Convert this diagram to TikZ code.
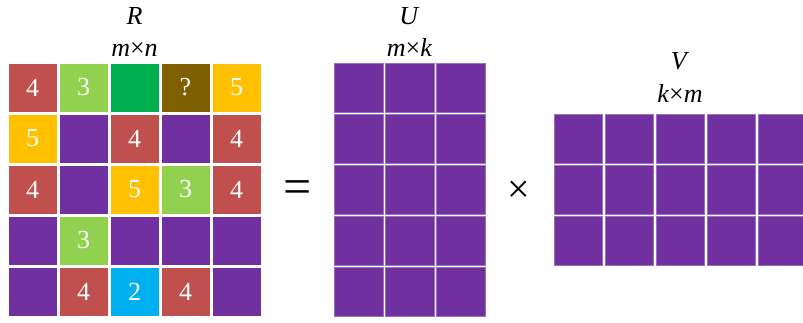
\documentclass[tikz,border=0pt]{standalone}
\usepackage{fontspec}
\setmainfont{Liberation Serif}
\definecolor{cR}{HTML}{C0504D}
\definecolor{cLG}{HTML}{92D050}
\definecolor{cG}{HTML}{00B050}
\definecolor{cBr}{HTML}{7F6000}
\definecolor{cY}{HTML}{FFC000}
\definecolor{cP}{HTML}{7030A0}
\definecolor{cC}{HTML}{00B0F0}
\definecolor{cEdge}{HTML}{9A70C0}
\begin{document}
\begin{tikzpicture}[x=1pt,y=-1pt,
  cell/.style={minimum size=48.6pt,inner sep=0pt,draw=white,line width=0.4pt,
    text=white,font=\fontsize{26}{26}\selectfont},
  pcell/.style={cell,fill=cP,draw=cEdge},
  lbl/.style={anchor=base,inner sep=0pt,font=\fontsize{26}{26}\selectfont},
  op/.style={inner sep=0pt}]
\useasboundingbox (0,0) rectangle (803,323);
\clip (0,0) rectangle (803,323);
% R matrix
\foreach \i/\j/\col/\txt in {
  0/0/cR/4, 0/1/cLG/3, 0/2/cG/, 0/3/cBr/?, 0/4/cY/5,
  1/0/cY/5, 1/1/cP/, 1/2/cR/4, 1/3/cP/, 1/4/cR/4,
  2/0/cR/4, 2/1/cP/, 2/2/cY/5, 2/3/cLG/3, 2/4/cR/4,
  3/0/cP/, 3/1/cLG/3, 3/2/cP/, 3/3/cP/, 3/4/cP/,
  4/0/cP/, 4/1/cR/4, 4/2/cC/2, 4/3/cR/4, 4/4/cP/}
  \node[cell,fill=\col] (r-\i-\j) at ({32.5+51*\j},{87.5+51*\i}) {\txt};
% U matrix
\foreach \i in {0,...,4}
  \foreach \j in {0,...,2}
    \node[pcell] (u-\i-\j) at ({358.5+51*\j},{87.5+51*\i}) {};
% V matrix
\foreach \i in {0,...,2}
  \foreach \j in {0,...,4}
    \node[pcell] (v-\i-\j) at ({578+51*\j},{138.5+51*\i}) {};
% labels
\node[lbl] (Rname) at (134.5,25) {\textit{R}};
\node[lbl] (Rdim) at (134.5,57) {\textit{m}×\textit{n}};
\node[lbl] (Uname) at (409.5,25) {\textit{U}};
\node[lbl] (Udim) at (409.5,57) {\textit{m}×\textit{k}};
\node[lbl] (Vname) at (680,69.5) {\textit{V}};
\node[lbl] (Vdim) at (680,102.5) {\textit{k}×\textit{m}};
% operators
\node[op,font=\fontsize{50}{50}\selectfont] (eq) at (298,192) {=};
\node[op,font=\fontsize{40}{40}\selectfont] (times) at (519,192) {×};
\end{tikzpicture}
\end{document}
